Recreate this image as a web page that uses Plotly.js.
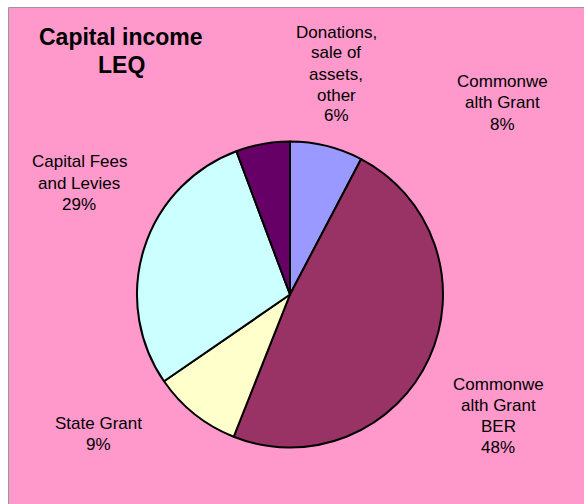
<!DOCTYPE html>
<html>
<head>
<meta charset="utf-8">
<script src="https://cdn.plot.ly/plotly-3.0.1.min.js"></script>
<style>html,body{margin:0;padding:0;background:#fff;}#chart{width:584px;height:504px;}</style>
</head>
<body>
<div id="chart"></div>
<script>
// Data
const categories = ["Commonwealth Grant", "Commonwealth Grant BER", "State Grant", "Capital Fees and Levies", "Donations, sale of assets, other"];
const wrappedLabels = ["Commonwe<br>alth Grant", "Commonwe<br>alth Grant<br>BER", "State Grant", "Capital Fees<br>and Levies", "Donations,<br>sale of<br>assets,<br>other"];
const values = [7.7, 48.3, 9.4, 28.9, 5.7];
const titleText = "Capital income<br>LEQ";

// Styling / layout (not data)
const colors = ["#9999FF", "#993366", "#FFFFCC", "#CCFFFF", "#660066"];
const W = 584, H = 504;
// [center x, first-line center y] in pixels
const labelPx = [[502, 82], [498, 384], [98, 423], [79, 162], [336, 32]];
const lineGap = 21;
const cx = 290, cy = 294.5, R = 153;
const FONT = 'Liberation Sans, Arial, sans-serif';

const total = values.reduce((a, b) => a + b, 0);
const annotations = [];
categories.forEach((c, i) => {
  const lines = wrappedLabels[i].split('<br>').concat([Math.round(values[i] / total * 100) + '%']);
  lines.forEach((ln, j) => {
    annotations.push({
      xref: 'paper', yref: 'paper',
      x: labelPx[i][0] / W, y: 1 - (labelPx[i][1] + j * lineGap) / H,
      xanchor: 'center', yanchor: 'middle', align: 'center', showarrow: false,
      text: ln,
      font: {family: FONT, size: 17, color: '#000'}
    });
  });
});
titleText.split('<br>').forEach((ln, j) => {
  annotations.push({
    xref: 'paper', yref: 'paper', x: 121 / W, y: 1 - (37 + j * 28) / H,
    xanchor: 'center', yanchor: 'middle', align: 'center', showarrow: false,
    text: '<b>' + ln + '</b>',
    font: {family: FONT, size: 23, color: '#000'}
  });
});

const trace = {
  type: 'pie',
  labels: categories,
  values: values,
  sort: false,
  direction: 'clockwise',
  rotation: 0,
  textinfo: 'none',
  hoverinfo: 'label+percent',
  marker: {colors: colors, line: {color: '#000', width: 2}},
  domain: {x: [(cx - R) / W, (cx + R) / W], y: [1 - (cy + R) / H, 1 - (cy - R) / H]},
  showlegend: false
};

const layout = {
  width: W, height: H,
  margin: {l: 0, r: 0, t: 0, b: 0},
  paper_bgcolor: '#FFFFFF',
  showlegend: false,
  shapes: [{
    type: 'rect', xref: 'paper', yref: 'paper', layer: 'below',
    x0: 8.5 / W, x1: 1.02, y0: -0.02, y1: 1 - 7.5 / H,
    fillcolor: '#FF99CC', line: {color: '#999999', width: 1}
  }],
  annotations: annotations
};

Plotly.newPlot('chart', [trace], layout, {displayModeBar: false, staticPlot: true});
</script>
</body>
</html>
